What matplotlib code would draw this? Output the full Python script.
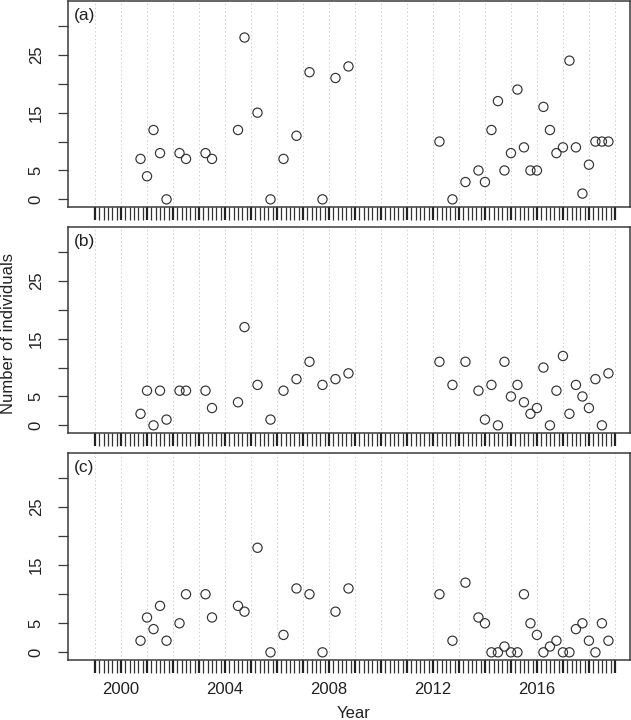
import numpy as np
import matplotlib
matplotlib.use('Agg')
import matplotlib.pyplot as plt
from matplotlib.ticker import FixedLocator

plt.rcParams['font.family'] = ['Liberation Sans', 'DejaVu Sans']

# sampling dates (decimal years)
dates = [2000.75, 2001.0, 2001.25, 2001.5, 2001.75, 2002.25, 2002.5, 2003.25, 2003.5,
         2004.5, 2004.75, 2005.25, 2005.75, 2006.25, 2006.75, 2007.25, 2007.75,
         2008.25, 2008.75, 2012.25, 2012.75, 2013.25, 2013.75,
         2014.0, 2014.25, 2014.5, 2014.75, 2015.0, 2015.25, 2015.5, 2015.75,
         2016.0, 2016.25, 2016.5, 2016.75, 2017.0, 2017.25, 2017.5, 2017.75,
         2018.0, 2018.25, 2018.5, 2018.75]

count_a = [7, 4, 12, 8, 0, 8, 7, 8, 7, 12, 28, 15, 0, 7, 11, 22, 0, 21, 23,
           10, 0, 3, 5,
           3, 12, 17, 5, 8, 19, 9, 5, 5, 16, 12, 8, 9, 24, 9, 1, 6, 10, 10, 10]
count_b = [2, 6, 0, 6, 1, 6, 6, 6, 3, 4, 17, 7, 1, 6, 8, 11, 7, 8, 9,
           11, 7, 11, 6,
           1, 7, 0, 11, 5, 7, 4, 2, 3, 10, 0, 6, 12, 2, 7, 5, 3, 8, 0, 9]
count_c = [2, 6, 4, 8, 2, 5, 10, 10, 6, 8, 7, 18, 0, 3, 11, 10, 0, 7, 11,
           10, 2, 12, 6,
           5, 0, 0, 1, 0, 0, 10, 5, 3, 0, 1, 2, 0, 0, 4, 5, 2, 0, 5, 2]

panels = ['(a)', '(b)', '(c)']
series = [count_a, count_b, count_c]

year_ticks = list(range(1999, 2020))
year_labels = ['2000', '2004', '2008', '2012', '2016']
y_ticks = [0, 5, 10, 15, 20, 25, 30]
y_labels = ['0', '5', '', '15', '', '25', '']

fig = plt.figure(figsize=(6.31, 7.2), dpi=100)
W, H = 631, 720
boxes = [(1, 207), (227, 433), (453, 660)]  # top, bottom in pixels
left, right = 68, 630
txt = '#222222'
edge = '#3a3a3a'
fs = 12

axes = []
for i, (top, bot) in enumerate(boxes):
    ax = fig.add_axes([left / W, 1 - bot / H, (right - left) / W, (bot - top) / H])
    axes.append(ax)
    for yr in year_ticks:
        ax.axvline(yr, color='#d0d0d0', lw=0.7, ls=(0, (1.5, 2.5)), zorder=0)
    ax.scatter(dates, series[i], s=44, facecolors='none', edgecolors='#333333',
               linewidths=0.85, zorder=3)
    ax.set_xlim(1997.96, 2019.58)
    ax.set_ylim(-1.32, 34.32)
    ax.set_yticks(y_ticks)
    ax.set_yticklabels(y_labels, rotation=90, va='center', fontsize=fs, color=txt)
    ax.xaxis.set_major_locator(FixedLocator(year_ticks))
    ax.xaxis.set_minor_locator(FixedLocator(np.arange(1999, 2019.001, 1 / 6)))
    ax.tick_params(axis='x', which='major', length=9, width=1.6, color='#222222',
                   direction='out', pad=7)
    ax.tick_params(axis='x', which='minor', length=9, width=0.9, color='#333333',
                   direction='out')
    ax.tick_params(axis='y', length=7.5, width=0.9, color=edge, pad=10)
    if i == 2:
        ax.set_xticklabels([str(y) if str(y) in year_labels else '' for y in year_ticks],
                           fontsize=fs, color=txt)
    else:
        ax.set_xticklabels([])
    for sp in ax.spines.values():
        sp.set_color(edge)
        sp.set_linewidth(1.1)
    ax.text(0.011, 0.965, panels[i], transform=ax.transAxes, ha='left', va='top',
            fontsize=fs + 0.5, color=txt)

fig.text(9 / W, 1 - 334 / H, 'Number of individuals', rotation=90, ha='center',
         va='center', fontsize=fs, color=txt)
fig.text(354 / W, 1 - 713 / H, 'Year', ha='center', va='center', fontsize=fs,
         color=txt)

fig.savefig('out.png', dpi=100)
